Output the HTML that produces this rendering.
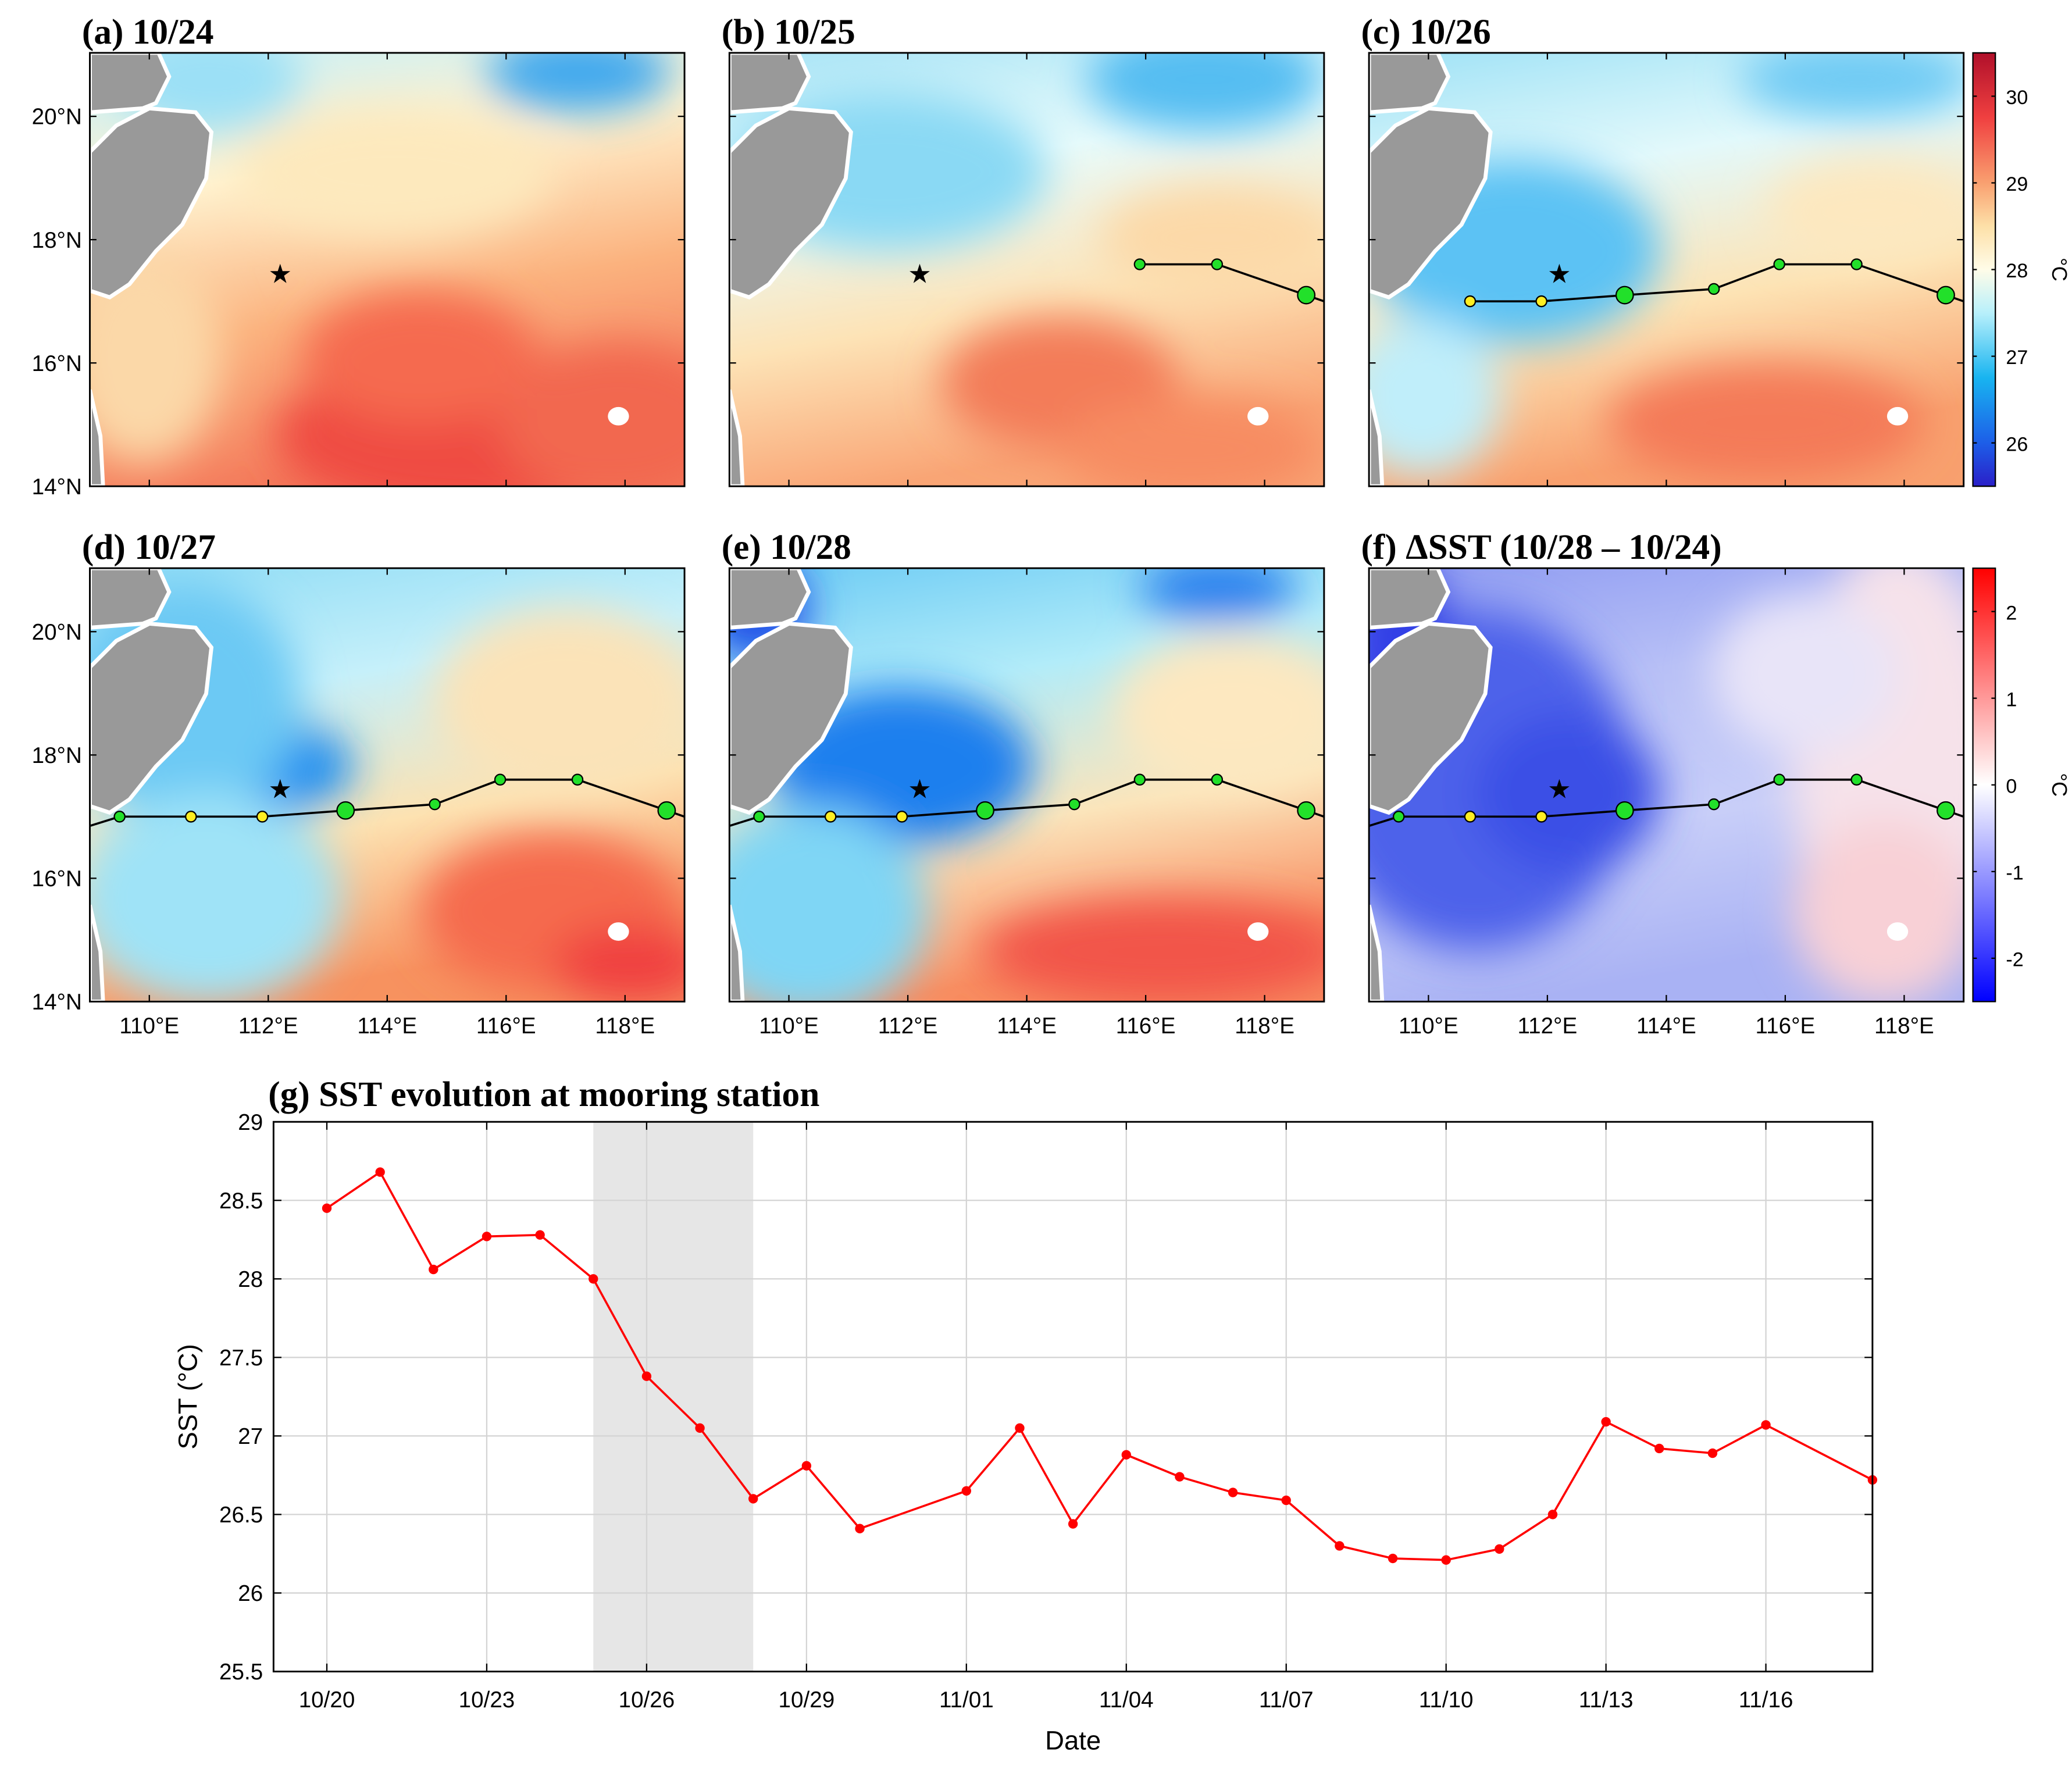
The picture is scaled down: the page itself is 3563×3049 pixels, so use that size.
<!DOCTYPE html>
<html><head><meta charset="utf-8">
<style>
html,body{margin:0;padding:0;background:#fff;}
body{width:3563px;height:3037px;overflow:hidden;position:relative;}
#root{position:absolute;left:0;top:0;width:1568px;height:1337px;transform:scale(2.27232);transform-origin:0 0;}
svg text{font-family:"Liberation Sans",Arial,sans-serif;}
.ttl{font-family:"Liberation Serif","Times New Roman",serif;font-weight:bold;font-size:27px;}
</style></head>
<body>
<div id="root">
<svg id="fig" width="1568" height="1337" viewBox="0 0 1568 1337" xmlns="http://www.w3.org/2000/svg">
<defs>
<filter id="bl" x="-50%" y="-50%" width="200%" height="200%"><feGaussianBlur stdDeviation="16"/></filter>
<linearGradient id="cb1" x1="0" y1="1" x2="0" y2="0">
<stop offset="0" stop-color="#2a1fc8"/><stop offset="0.1" stop-color="#1d5ee8"/><stop offset="0.25" stop-color="#18b4f0"/><stop offset="0.4" stop-color="#b8f0fb"/><stop offset="0.5" stop-color="#fffce8"/><stop offset="0.6" stop-color="#fde0a8"/><stop offset="0.7" stop-color="#f9a070"/><stop offset="0.85" stop-color="#f04040"/><stop offset="1" stop-color="#b0102a"/></linearGradient>
<linearGradient id="cb2" x1="0" y1="1" x2="0" y2="0">
<stop offset="0" stop-color="#0000ff"/><stop offset="0.5" stop-color="#ffffff"/><stop offset="1" stop-color="#ff0000"/></linearGradient>
</defs>
<g id="maps"></g>
<g id="linechart"></g>
</svg>
</div>
<script>
// ---------- line chart data ----------
const dates = ["10/20","10/21","10/22","10/23","10/24","10/25","10/26","10/27","10/28","10/29","10/30","10/31","11/01","11/02","11/03","11/04","11/05","11/06","11/07","11/08","11/09","11/10","11/11","11/12","11/13","11/14","11/15","11/16","11/17","11/18"];
const sstValues = [28.45,28.68,28.06,28.27,28.28,28.0,27.38,27.05,26.6,26.81,26.41,null,26.65,27.05,26.44,26.88,26.74,26.64,26.59,26.3,26.22,26.21,26.28,26.5,27.09,26.92,26.89,27.07,null,26.72];
const yTicks = [25.5,26,26.5,27,27.5,28,28.5,29];
const xTickLabels = ["10/20","10/23","10/26","10/29","11/01","11/04","11/07","11/10","11/13","11/16"];
const shadeRange = ["10/25","10/28"];
// ---------- map data ----------
const trackLon = [109.5,110.7,111.9,113.3,114.8,115.9,117.2,118.7];
const trackLat = [17.0,17.0,17.0,17.1,17.2,17.6,17.6,17.1];
const trackColor = ["g","y","y","g","g","g","g","g"];
const trackSize = [1,1,1,2,1,1,1,2];
const station = [112.2,17.45];
const lonTicks = [110,112,114,116,118];
const latTicks = [14,16,18,20];
const cb1Ticks = [26,27,28,29,30];
const cb2Ticks = [-2,-1,0,1,2];

const NS="http://www.w3.org/2000/svg";
function mk(tag,attrs,parent){const e=document.createElementNS(NS,tag);for(const k in attrs)e.setAttribute(k,attrs[k]);if(parent)parent.appendChild(e);return e;}

// ---------- maps ----------
const mapsG=document.getElementById('maps');
const PW=450,PH=328;
const panels=[
 {x:68,y:40,t:"(a) 10/24",first:null,bg:["#c6f0fb","#fff2cf","#fbb27e","#f47c5c"],blobs:[[370,15,70,30,"#3fa8ee"],[90,20,70,40,"#9be0f6"],[290,290,150,60,"#ef4c42"],[250,230,90,50,"#f56a50"],[400,280,90,60,"#f26850"],[230,90,120,50,"#fde9bd"],[40,230,60,80,"#fbd8a8"]]},
 {x:552,y:40,t:"(b) 10/25",first:5,bg:["#a8e4f6","#e8fbfb","#fde3b6","#f9a575"],blobs:[[360,20,90,40,"#55bdf2"],[120,90,120,60,"#8ad9f4"],[250,250,90,50,"#f37c58"],[350,300,100,40,"#f78c62"],[370,140,90,40,"#fcd9a8"]]},
 {x:1036,y:40,t:"(c) 10/26",first:1,bg:["#9fe2f6","#e3f9fb","#fde3b4","#f8a06e"],blobs:[[110,160,70,35,"#2080ee"],[110,150,110,70,"#5cc2f4"],[370,20,90,30,"#6ecaf4"],[300,280,120,45,"#f47a58"],[40,260,60,60,"#c0eefa"],[380,120,80,40,"#fde8bf"]]},
 {x:68,y:430,t:"(d) 10/27",first:0,bg:["#8fdcf5","#c6f0fa","#fde2b1","#f7925f"],blobs:[[110,150,90,40,"#1f8ef0"],[70,100,90,90,"#6cc9f4"],[90,250,100,80,"#9fe3f7"],[360,100,100,70,"#fbe3b8"],[350,260,100,60,"#f56a4e"],[410,300,60,30,"#f04040"]]},
 {x:552,y:430,t:"(e) 10/28",first:0,bg:["#6ccbf4","#b2ecf9","#fbe5bb","#f88d60"],blobs:[[130,150,100,60,"#1a7fee"],[20,30,40,40,"#1f4fe8"],[370,15,60,25,"#2a80ee"],[60,260,90,80,"#7fd6f5"],[330,290,140,40,"#f25548"],[380,110,90,60,"#fde8c0"]]},
 {x:1036,y:430,t:"(f) \u0394SST (10/28 \u2013 10/24)",first:0,bg:["#8f9cf2","#b8c0f6","#c8cef8","#a9b2f4"],blobs:[[80,160,120,130,"#4d62ea"],[150,170,70,60,"#3b50e6"],[400,150,80,170,"#f6e2ea"],[390,260,70,70,"#f8d0d6"],[330,80,70,60,"#e8e4f8"],[20,50,40,60,"#3040e6"]]}
];
const lonToX=(lon)=>(lon-109.0)/(119.0-109.0)*PW;
const latToY=(lat)=>PH-(lat-14)/(21.03-14)*PH;

panels.forEach((p,i)=>{
 const g=mk('g',{transform:`translate(${p.x},${p.y})`},mapsG);
 
 
 const cid='clip'+i;
 const cp=mk('clipPath',{id:cid},g);mk('rect',{x:0,y:0,width:PW,height:PH},cp);
 const gid='bg'+i;
 const lg=mk('linearGradient',{id:gid,x1:0,y1:0,x2:0.25,y2:1},g);
 p.bg.forEach((c,k)=>mk('stop',{offset:k/(p.bg.length-1),'stop-color':c},lg));
 const cg=mk('g',{'clip-path':`url(#${cid})`},g);
 const field=mk('rect',{x:0,y:0,width:PW,height:PH,fill:`url(#${gid})`},cg);
 
 
 const bg=mk('g',{filter:'url(#bl)'},cg);
 p.blobs.forEach(b=>mk('ellipse',{cx:b[0],cy:b[1],rx:b[2],ry:b[3],fill:b[4]},bg));
 const land=mk('path',{d:"M0,0 L52,0 L60,18 L50,38 L40,42 L0,45 Z M0,75 L20,55 L45,42 L80,45 L92,60 L88,95 L70,130 L50,150 L30,175 L15,185 L0,180 Z M0,255 L8,290 L10,328 L0,328 Z",fill:'#999999',stroke:'#fff','stroke-width':3},cg);
 
 
 mk('ellipse',{cx:400,cy:275,rx:8,ry:7,fill:'#fff'},cg);
 if(p.first!==null){
  const tg=mk('g',{},cg);
  
  
  let pts=[];
  if(p.first===0)pts.push([0,latToY(16.85)]);
  for(let k=p.first;k<trackLon.length;k++)pts.push([lonToX(trackLon[k]),latToY(trackLat[k])]);
  pts.push([PW,latToY(17.0)]);
  mk('polyline',{points:pts.map(q=>q.join(',')).join(' '),fill:'none',stroke:'#000','stroke-width':1.6},tg);
  for(let k=p.first;k<trackLon.length;k++){
   const c=mk('circle',{cx:lonToX(trackLon[k]),cy:latToY(trackLat[k]),r:trackSize[k]===2?6.5:4,fill:trackColor[k]==="g"?'#22e02a':'#ffee22',stroke:'#000','stroke-width':1},tg);
   
   
  }
 }
 const st=mk('text',{x:lonToX(station[0]),y:latToY(station[1])+7,'text-anchor':'middle','font-size':20,fill:'#000'},g);
 st.textContent='\u2605';
 
 
 mk('rect',{x:0,y:0,width:PW,height:PH,fill:'none',stroke:'#000','stroke-width':1.3},g);
 lonTicks.forEach(l=>{const x=lonToX(l);mk('line',{x1:x,y1:0,x2:x,y2:5,stroke:'#000'},g);mk('line',{x1:x,y1:PH,x2:x,y2:PH-5,stroke:'#000'},g);
  if(i>=3){const t=mk('text',{x:x,y:PH+24,'text-anchor':'middle','font-size':17},g);t.textContent=l+'\u00b0E';}});
 latTicks.forEach(l=>{const y=latToY(l);mk('line',{x1:0,y1:y,x2:5,y2:y,stroke:'#000'},g);mk('line',{x1:PW,y1:y,x2:PW-5,y2:y,stroke:'#000'},g);
  if(i===0||i===3){const t=mk('text',{x:-6,y:y+6,'text-anchor':'end','font-size':17},g);t.textContent=l+'\u00b0N';}});
 const tt=mk('text',{x:-6,y:-7,'class':'ttl'},g);tt.textContent=p.t;
 
 
});
function colorbar(y,grad,ticks,vmin,vmax,name){
 const g=mk('g',{transform:`translate(1493,${y})`},mapsG);
 
 
 mk('rect',{x:0,y:0,width:17,height:328,fill:`url(#${grad})`,stroke:'#000','stroke-width':1},g);
 ticks.forEach(v=>{const yy=328-(v-vmin)/(vmax-vmin)*328;mk('line',{x1:0,y1:yy,x2:3,y2:yy,stroke:'#000'},g);mk('line',{x1:17,y1:yy,x2:14,y2:yy,stroke:'#000'},g);
  const t=mk('text',{x:25,y:yy+6,'font-size':15},g);t.textContent=v;});
 const u=mk('text',{x:60,y:164,'font-size':16,transform:'rotate(90 60 164)','text-anchor':'middle'},g);u.textContent='\u00b0C';
}
colorbar(40,'cb1',cb1Ticks,25.5,30.5,'sst-colorbar');
colorbar(430,'cb2',cb2Ticks,-2.5,2.5,'dsst-colorbar');

// ---------- line chart ----------
const lc=document.getElementById('linechart');
const X0=207,X1=1417,Y0=849,Y1=1265;
const dayIdx=(d)=>dates.indexOf(d)+1;
const xS=(i)=>X0+i/30*(X1-X0);
const yS=(v)=>Y1-(v-25.5)/(29-25.5)*(Y1-Y0);
const sh=mk('rect',{x:xS(dayIdx(shadeRange[0])),y:Y0,width:xS(dayIdx(shadeRange[1]))-xS(dayIdx(shadeRange[0])),height:Y1-Y0,fill:'#e6e6e6'},lc);


yTicks.forEach(v=>{const y=yS(v);mk('line',{x1:X0,y1:y,x2:X1,y2:y,stroke:'#d4d4d4','stroke-width':1},lc);
 mk('line',{x1:X0,y1:y,x2:X0+6,y2:y,stroke:'#000'},lc);mk('line',{x1:X1,y1:y,x2:X1-6,y2:y,stroke:'#000'},lc);
 const t=mk('text',{x:X0-8,y:y+6,'text-anchor':'end','font-size':17},lc);t.textContent=v;
 });
xTickLabels.forEach(d=>{const x=xS(dayIdx(d));mk('line',{x1:x,y1:Y0,x2:x,y2:Y1,stroke:'#d4d4d4'},lc);
 mk('line',{x1:x,y1:Y1,x2:x,y2:Y1-6,stroke:'#000'},lc);mk('line',{x1:x,y1:Y0,x2:x,y2:Y0+6,stroke:'#000'},lc);
 const t=mk('text',{x:x,y:Y1+27,'text-anchor':'middle','font-size':17},lc);t.textContent=d;
 });
const pts=[];sstValues.forEach((v,k)=>{if(v!==null)pts.push([xS(k+1),yS(v)]);});
const ln=mk('polyline',{points:pts.map(q=>q.join(',')).join(' '),fill:'none',stroke:'#ff0000','stroke-width':1.6},lc);


pts.forEach(q=>{const c=mk('circle',{cx:q[0],cy:q[1],r:3.6,fill:'#ff0000'},lc);
 
 });
mk('rect',{x:X0,y:Y0,width:X1-X0,height:Y1-Y0,fill:'none',stroke:'#000','stroke-width':1.3},lc);
const lt=mk('text',{x:203,y:837,'class':'ttl'},lc);lt.textContent='(g) SST evolution at mooring station';

const xl=mk('text',{x:812,y:1324,'text-anchor':'middle','font-size':20},lc);xl.textContent='Date';

const yl=mk('text',{x:149,y:1057,'text-anchor':'middle','font-size':20,transform:'rotate(-90 149 1057)'},lc);yl.textContent='SST (\u00b0C)';

</script>
</body></html>
